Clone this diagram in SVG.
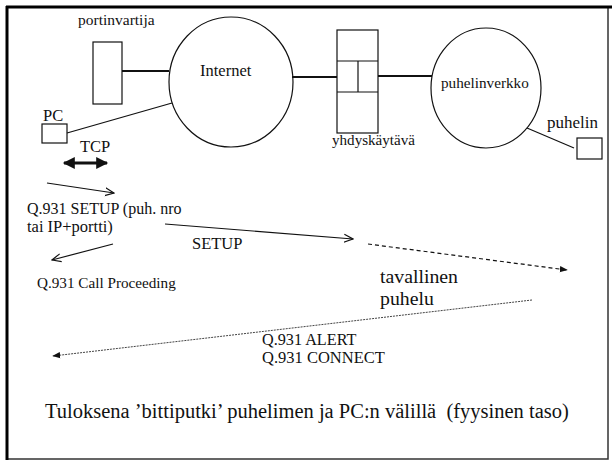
<svg xmlns="http://www.w3.org/2000/svg" width="612" height="462" viewBox="0 0 612 462">
<style>
text{font-family:"Liberation Serif","Times New Roman",serif;fill:#111}
.s{fill:none;stroke:#111;stroke-width:1.2}
.l{stroke:#111;stroke-width:1.2;fill:none}
.b{stroke:#111;stroke-width:2.2;fill:none}
</style>
<defs>
<marker id="open" viewBox="0 0 10 10" refX="9" refY="5" markerWidth="10" markerHeight="10" markerUnits="userSpaceOnUse" orient="auto"><path d="M0,1 L9,5 L0,9" fill="none" stroke="#111" stroke-width="1.2"/></marker>
<marker id="fill" viewBox="0 0 10 10" refX="9" refY="5" markerWidth="8" markerHeight="8" markerUnits="userSpaceOnUse" orient="auto"><path d="M0,1 L10,5 L0,9 Z" fill="#111"/></marker>
<marker id="big" viewBox="0 0 10 10" refX="9" refY="5" markerWidth="14" markerHeight="12" markerUnits="userSpaceOnUse" orient="auto-start-reverse"><path d="M0,0 L10,5 L0,10 Z" fill="#111"/></marker>
</defs>
<rect width="612" height="462" fill="#fff"/>
<g id="frame">
<rect x="7" y="7" width="601" height="452" fill="none" stroke="#333" stroke-width="1.5"/>
<line x1="6" y1="7" x2="612" y2="7" stroke="#000" stroke-width="3"/>
<line x1="7" y1="6" x2="7" y2="460" stroke="#000" stroke-width="3"/>
</g>
<g id="connectors">
<line class="b" x1="122" y1="71" x2="169" y2="71"/>
<line class="b" x1="292" y1="77" x2="337" y2="77"/>
<line class="b" x1="378" y1="76" x2="432" y2="76"/>
<line class="l" x1="67" y1="133" x2="172" y2="103"/>
<line class="l" x1="527" y1="128" x2="574" y2="148"/>
<line x1="64" y1="163" x2="107" y2="163" stroke="#111" stroke-width="3" marker-start="url(#big)" marker-end="url(#big)"/>
<line class="l" x1="47" y1="183" x2="114" y2="193" marker-end="url(#open)"/>
<line class="l" x1="165" y1="224" x2="353" y2="239" marker-end="url(#open)"/>
<line class="l" x1="113" y1="244" x2="52" y2="260" marker-end="url(#open)"/>
<line class="l" x1="368" y1="244" x2="567" y2="270" stroke-dasharray="4,3" marker-end="url(#fill)"/>
<line x1="532" y1="300" x2="53" y2="356" stroke="#444" stroke-width="1" stroke-dasharray="2,1" marker-end="url(#fill)"/>
</g>
<g id="portinvartija">
<rect class="s" x="93" y="42" width="29" height="62"/>
<text x="78" y="25" font-size="15.5">portinvartija</text>
</g>
<g id="internet">
<ellipse class="s" cx="231" cy="82" rx="62" ry="65"/>
<text x="200" y="76" font-size="16.5">Internet</text>
</g>
<g id="pc">
<rect class="s" x="42" y="124" width="25" height="19"/>
<text x="43" y="121" font-size="16.5">PC</text>
</g>
<g id="yhdyskaytava">
<rect class="s" x="337" y="30" width="41" height="103"/>
<line class="l" x1="337" y1="61" x2="378" y2="61"/>
<line class="l" x1="337" y1="92" x2="378" y2="92"/>
<line class="l" x1="358" y1="61" x2="358" y2="92"/>
<text x="332" y="145" font-size="15.1">yhdyskäytävä</text>
</g>
<g id="puhelinverkko">
<ellipse class="s" cx="486" cy="88" rx="55" ry="60"/>
<text x="441" y="88" font-size="15.2">puhelinverkko</text>
</g>
<g id="puhelin">
<rect class="s" x="577" y="138" width="25" height="21"/>
<text x="547" y="128" font-size="17">puhelin</text>
</g>
<g id="labels">
<text x="80" y="152" font-size="16.5">TCP</text>
<text x="27" y="214" font-size="16">Q.931 SETUP (puh. nro</text>
<text x="27" y="232" font-size="16.5">tai IP+portti)</text>
<text x="192" y="249" font-size="16.5">SETUP</text>
<text x="37" y="288" font-size="15.2">Q.931 Call Proceeding</text>
<text x="380" y="283" font-size="19.8">tavallinen</text>
<text x="380" y="305" font-size="19.8">puhelu</text>
<text x="262" y="345" font-size="16.2">Q.931 ALERT</text>
<text x="262" y="363" font-size="16.5">Q.931 CONNECT</text>
<text x="45" y="418" font-size="20.5" xml:space="preserve">Tuloksena ’bittiputki’ puhelimen ja PC:n välillä  (fyysinen taso)</text>
</g>
</svg>
